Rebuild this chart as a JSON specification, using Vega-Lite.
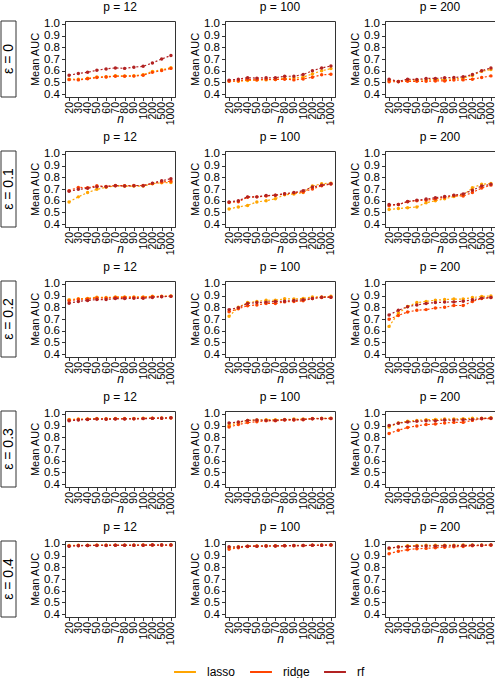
{
  "$schema": "https://vega.github.io/schema/vega-lite/v6.json",
  "background": "white",
  "padding": {"left": 0, "top": 0, "right": 0, "bottom": 0},
  "data": {
    "values": [
      {"eps": 0, "p": 12, "n": 20, "lasso": 0.528, "ridge": 0.524, "rf": 0.562},
      {"eps": 0, "p": 12, "n": 30, "lasso": 0.527, "ridge": 0.522, "rf": 0.576},
      {"eps": 0, "p": 12, "n": 40, "lasso": 0.535, "ridge": 0.531, "rf": 0.587},
      {"eps": 0, "p": 12, "n": 50, "lasso": 0.546, "ridge": 0.542, "rf": 0.604},
      {"eps": 0, "p": 12, "n": 60, "lasso": 0.549, "ridge": 0.546, "rf": 0.615},
      {"eps": 0, "p": 12, "n": 70, "lasso": 0.557, "ridge": 0.553, "rf": 0.624},
      {"eps": 0, "p": 12, "n": 80, "lasso": 0.556, "ridge": 0.553, "rf": 0.620},
      {"eps": 0, "p": 12, "n": 90, "lasso": 0.557, "ridge": 0.554, "rf": 0.630},
      {"eps": 0, "p": 12, "n": 100, "lasso": 0.566, "ridge": 0.561, "rf": 0.638},
      {"eps": 0, "p": 12, "n": 200, "lasso": 0.594, "ridge": 0.586, "rf": 0.666},
      {"eps": 0, "p": 12, "n": 500, "lasso": 0.608, "ridge": 0.601, "rf": 0.700},
      {"eps": 0, "p": 12, "n": 1000, "lasso": 0.626, "ridge": 0.620, "rf": 0.730},
      {"eps": 0, "p": 100, "n": 20, "lasso": 0.512, "ridge": 0.510, "rf": 0.520},
      {"eps": 0, "p": 100, "n": 30, "lasso": 0.510, "ridge": 0.515, "rf": 0.528},
      {"eps": 0, "p": 100, "n": 40, "lasso": 0.517, "ridge": 0.525, "rf": 0.540},
      {"eps": 0, "p": 100, "n": 50, "lasso": 0.520, "ridge": 0.522, "rf": 0.537},
      {"eps": 0, "p": 100, "n": 60, "lasso": 0.522, "ridge": 0.528, "rf": 0.540},
      {"eps": 0, "p": 100, "n": 70, "lasso": 0.525, "ridge": 0.525, "rf": 0.540},
      {"eps": 0, "p": 100, "n": 80, "lasso": 0.534, "ridge": 0.528, "rf": 0.553},
      {"eps": 0, "p": 100, "n": 90, "lasso": 0.537, "ridge": 0.522, "rf": 0.553},
      {"eps": 0, "p": 100, "n": 100, "lasso": 0.545, "ridge": 0.530, "rf": 0.567},
      {"eps": 0, "p": 100, "n": 200, "lasso": 0.573, "ridge": 0.545, "rf": 0.600},
      {"eps": 0, "p": 100, "n": 500, "lasso": 0.600, "ridge": 0.565, "rf": 0.624},
      {"eps": 0, "p": 100, "n": 1000, "lasso": 0.618, "ridge": 0.570, "rf": 0.640},
      {"eps": 0, "p": 200, "n": 20, "lasso": 0.517, "ridge": 0.506, "rf": 0.528},
      {"eps": 0, "p": 200, "n": 30, "lasso": 0.508, "ridge": 0.506, "rf": 0.508},
      {"eps": 0, "p": 200, "n": 40, "lasso": 0.520, "ridge": 0.510, "rf": 0.528},
      {"eps": 0, "p": 200, "n": 50, "lasso": 0.520, "ridge": 0.510, "rf": 0.525},
      {"eps": 0, "p": 200, "n": 60, "lasso": 0.522, "ridge": 0.510, "rf": 0.534},
      {"eps": 0, "p": 200, "n": 70, "lasso": 0.525, "ridge": 0.513, "rf": 0.534},
      {"eps": 0, "p": 200, "n": 80, "lasso": 0.525, "ridge": 0.513, "rf": 0.540},
      {"eps": 0, "p": 200, "n": 90, "lasso": 0.530, "ridge": 0.520, "rf": 0.542},
      {"eps": 0, "p": 200, "n": 100, "lasso": 0.537, "ridge": 0.522, "rf": 0.548},
      {"eps": 0, "p": 200, "n": 200, "lasso": 0.560, "ridge": 0.528, "rf": 0.567},
      {"eps": 0, "p": 200, "n": 500, "lasso": 0.595, "ridge": 0.542, "rf": 0.600},
      {"eps": 0, "p": 200, "n": 1000, "lasso": 0.610, "ridge": 0.556, "rf": 0.624},
      {"eps": 0.1, "p": 12, "n": 20, "lasso": 0.590, "ridge": 0.686, "rf": 0.680},
      {"eps": 0.1, "p": 12, "n": 30, "lasso": 0.633, "ridge": 0.714, "rf": 0.697},
      {"eps": 0.1, "p": 12, "n": 40, "lasso": 0.670, "ridge": 0.711, "rf": 0.706},
      {"eps": 0.1, "p": 12, "n": 50, "lasso": 0.697, "ridge": 0.728, "rf": 0.720},
      {"eps": 0.1, "p": 12, "n": 60, "lasso": 0.714, "ridge": 0.722, "rf": 0.720},
      {"eps": 0.1, "p": 12, "n": 70, "lasso": 0.728, "ridge": 0.730, "rf": 0.728},
      {"eps": 0.1, "p": 12, "n": 80, "lasso": 0.725, "ridge": 0.728, "rf": 0.725},
      {"eps": 0.1, "p": 12, "n": 90, "lasso": 0.725, "ridge": 0.730, "rf": 0.728},
      {"eps": 0.1, "p": 12, "n": 100, "lasso": 0.725, "ridge": 0.730, "rf": 0.728},
      {"eps": 0.1, "p": 12, "n": 200, "lasso": 0.745, "ridge": 0.747, "rf": 0.750},
      {"eps": 0.1, "p": 12, "n": 500, "lasso": 0.753, "ridge": 0.760, "rf": 0.770},
      {"eps": 0.1, "p": 12, "n": 1000, "lasso": 0.755, "ridge": 0.766, "rf": 0.788},
      {"eps": 0.1, "p": 100, "n": 20, "lasso": 0.530, "ridge": 0.585, "rf": 0.590},
      {"eps": 0.1, "p": 100, "n": 30, "lasso": 0.547, "ridge": 0.592, "rf": 0.600},
      {"eps": 0.1, "p": 100, "n": 40, "lasso": 0.560, "ridge": 0.630, "rf": 0.633},
      {"eps": 0.1, "p": 100, "n": 50, "lasso": 0.590, "ridge": 0.633, "rf": 0.633},
      {"eps": 0.1, "p": 100, "n": 60, "lasso": 0.600, "ridge": 0.640, "rf": 0.644},
      {"eps": 0.1, "p": 100, "n": 70, "lasso": 0.617, "ridge": 0.647, "rf": 0.647},
      {"eps": 0.1, "p": 100, "n": 80, "lasso": 0.650, "ridge": 0.658, "rf": 0.660},
      {"eps": 0.1, "p": 100, "n": 90, "lasso": 0.658, "ridge": 0.667, "rf": 0.670},
      {"eps": 0.1, "p": 100, "n": 100, "lasso": 0.670, "ridge": 0.675, "rf": 0.686},
      {"eps": 0.1, "p": 100, "n": 200, "lasso": 0.725, "ridge": 0.700, "rf": 0.717},
      {"eps": 0.1, "p": 100, "n": 500, "lasso": 0.745, "ridge": 0.728, "rf": 0.733},
      {"eps": 0.1, "p": 100, "n": 1000, "lasso": 0.750, "ridge": 0.742, "rf": 0.745},
      {"eps": 0.1, "p": 200, "n": 20, "lasso": 0.525, "ridge": 0.558, "rf": 0.567},
      {"eps": 0.1, "p": 200, "n": 30, "lasso": 0.533, "ridge": 0.567, "rf": 0.567},
      {"eps": 0.1, "p": 200, "n": 40, "lasso": 0.541, "ridge": 0.592, "rf": 0.594},
      {"eps": 0.1, "p": 200, "n": 50, "lasso": 0.547, "ridge": 0.600, "rf": 0.605},
      {"eps": 0.1, "p": 200, "n": 60, "lasso": 0.583, "ridge": 0.605, "rf": 0.614},
      {"eps": 0.1, "p": 200, "n": 70, "lasso": 0.600, "ridge": 0.614, "rf": 0.625},
      {"eps": 0.1, "p": 200, "n": 80, "lasso": 0.617, "ridge": 0.630, "rf": 0.636},
      {"eps": 0.1, "p": 200, "n": 90, "lasso": 0.636, "ridge": 0.644, "rf": 0.647},
      {"eps": 0.1, "p": 200, "n": 100, "lasso": 0.647, "ridge": 0.640, "rf": 0.658},
      {"eps": 0.1, "p": 200, "n": 200, "lasso": 0.710, "ridge": 0.670, "rf": 0.690},
      {"eps": 0.1, "p": 200, "n": 500, "lasso": 0.740, "ridge": 0.708, "rf": 0.725},
      {"eps": 0.1, "p": 200, "n": 1000, "lasso": 0.747, "ridge": 0.733, "rf": 0.740},
      {"eps": 0.2, "p": 12, "n": 20, "lasso": 0.865, "ridge": 0.855, "rf": 0.835},
      {"eps": 0.2, "p": 12, "n": 30, "lasso": 0.873, "ridge": 0.868, "rf": 0.850},
      {"eps": 0.2, "p": 12, "n": 40, "lasso": 0.876, "ridge": 0.870, "rf": 0.858},
      {"eps": 0.2, "p": 12, "n": 50, "lasso": 0.886, "ridge": 0.880, "rf": 0.866},
      {"eps": 0.2, "p": 12, "n": 60, "lasso": 0.883, "ridge": 0.878, "rf": 0.866},
      {"eps": 0.2, "p": 12, "n": 70, "lasso": 0.888, "ridge": 0.884, "rf": 0.874},
      {"eps": 0.2, "p": 12, "n": 80, "lasso": 0.888, "ridge": 0.884, "rf": 0.874},
      {"eps": 0.2, "p": 12, "n": 90, "lasso": 0.888, "ridge": 0.884, "rf": 0.876},
      {"eps": 0.2, "p": 12, "n": 100, "lasso": 0.888, "ridge": 0.884, "rf": 0.876},
      {"eps": 0.2, "p": 12, "n": 200, "lasso": 0.894, "ridge": 0.890, "rf": 0.884},
      {"eps": 0.2, "p": 12, "n": 500, "lasso": 0.894, "ridge": 0.892, "rf": 0.890},
      {"eps": 0.2, "p": 12, "n": 1000, "lasso": 0.897, "ridge": 0.894, "rf": 0.893},
      {"eps": 0.2, "p": 100, "n": 20, "lasso": 0.723, "ridge": 0.762, "rf": 0.780},
      {"eps": 0.2, "p": 100, "n": 30, "lasso": 0.800, "ridge": 0.788, "rf": 0.797},
      {"eps": 0.2, "p": 100, "n": 40, "lasso": 0.840, "ridge": 0.813, "rf": 0.833},
      {"eps": 0.2, "p": 100, "n": 50, "lasso": 0.850, "ridge": 0.820, "rf": 0.840},
      {"eps": 0.2, "p": 100, "n": 60, "lasso": 0.860, "ridge": 0.833, "rf": 0.844},
      {"eps": 0.2, "p": 100, "n": 70, "lasso": 0.860, "ridge": 0.833, "rf": 0.850},
      {"eps": 0.2, "p": 100, "n": 80, "lasso": 0.872, "ridge": 0.846, "rf": 0.852},
      {"eps": 0.2, "p": 100, "n": 90, "lasso": 0.870, "ridge": 0.850, "rf": 0.858},
      {"eps": 0.2, "p": 100, "n": 100, "lasso": 0.875, "ridge": 0.855, "rf": 0.864},
      {"eps": 0.2, "p": 100, "n": 200, "lasso": 0.888, "ridge": 0.875, "rf": 0.875},
      {"eps": 0.2, "p": 100, "n": 500, "lasso": 0.888, "ridge": 0.883, "rf": 0.886},
      {"eps": 0.2, "p": 100, "n": 1000, "lasso": 0.894, "ridge": 0.886, "rf": 0.886},
      {"eps": 0.2, "p": 200, "n": 20, "lasso": 0.637, "ridge": 0.698, "rf": 0.735},
      {"eps": 0.2, "p": 200, "n": 30, "lasso": 0.750, "ridge": 0.730, "rf": 0.774},
      {"eps": 0.2, "p": 200, "n": 40, "lasso": 0.807, "ridge": 0.760, "rf": 0.805},
      {"eps": 0.2, "p": 200, "n": 50, "lasso": 0.840, "ridge": 0.774, "rf": 0.820},
      {"eps": 0.2, "p": 200, "n": 60, "lasso": 0.850, "ridge": 0.780, "rf": 0.833},
      {"eps": 0.2, "p": 200, "n": 70, "lasso": 0.860, "ridge": 0.793, "rf": 0.840},
      {"eps": 0.2, "p": 200, "n": 80, "lasso": 0.866, "ridge": 0.800, "rf": 0.844},
      {"eps": 0.2, "p": 200, "n": 90, "lasso": 0.870, "ridge": 0.815, "rf": 0.846},
      {"eps": 0.2, "p": 200, "n": 100, "lasso": 0.870, "ridge": 0.815, "rf": 0.852},
      {"eps": 0.2, "p": 200, "n": 200, "lasso": 0.883, "ridge": 0.850, "rf": 0.864},
      {"eps": 0.2, "p": 200, "n": 500, "lasso": 0.892, "ridge": 0.875, "rf": 0.878},
      {"eps": 0.2, "p": 200, "n": 1000, "lasso": 0.897, "ridge": 0.883, "rf": 0.883},
      {"eps": 0.3, "p": 12, "n": 20, "lasso": 0.952, "ridge": 0.947, "rf": 0.940},
      {"eps": 0.3, "p": 12, "n": 30, "lasso": 0.955, "ridge": 0.952, "rf": 0.947},
      {"eps": 0.3, "p": 12, "n": 40, "lasso": 0.956, "ridge": 0.954, "rf": 0.952},
      {"eps": 0.3, "p": 12, "n": 50, "lasso": 0.960, "ridge": 0.957, "rf": 0.955},
      {"eps": 0.3, "p": 12, "n": 60, "lasso": 0.958, "ridge": 0.956, "rf": 0.954},
      {"eps": 0.3, "p": 12, "n": 70, "lasso": 0.960, "ridge": 0.958, "rf": 0.956},
      {"eps": 0.3, "p": 12, "n": 80, "lasso": 0.960, "ridge": 0.958, "rf": 0.956},
      {"eps": 0.3, "p": 12, "n": 90, "lasso": 0.960, "ridge": 0.958, "rf": 0.957},
      {"eps": 0.3, "p": 12, "n": 100, "lasso": 0.962, "ridge": 0.960, "rf": 0.959},
      {"eps": 0.3, "p": 12, "n": 200, "lasso": 0.963, "ridge": 0.962, "rf": 0.961},
      {"eps": 0.3, "p": 12, "n": 500, "lasso": 0.964, "ridge": 0.963, "rf": 0.963},
      {"eps": 0.3, "p": 12, "n": 1000, "lasso": 0.966, "ridge": 0.965, "rf": 0.966},
      {"eps": 0.3, "p": 100, "n": 20, "lasso": 0.900, "ridge": 0.888, "rf": 0.922},
      {"eps": 0.3, "p": 100, "n": 30, "lasso": 0.925, "ridge": 0.908, "rf": 0.930},
      {"eps": 0.3, "p": 100, "n": 40, "lasso": 0.944, "ridge": 0.925, "rf": 0.944},
      {"eps": 0.3, "p": 100, "n": 50, "lasso": 0.947, "ridge": 0.933, "rf": 0.947},
      {"eps": 0.3, "p": 100, "n": 60, "lasso": 0.950, "ridge": 0.940, "rf": 0.944},
      {"eps": 0.3, "p": 100, "n": 70, "lasso": 0.950, "ridge": 0.940, "rf": 0.944},
      {"eps": 0.3, "p": 100, "n": 80, "lasso": 0.952, "ridge": 0.947, "rf": 0.950},
      {"eps": 0.3, "p": 100, "n": 90, "lasso": 0.955, "ridge": 0.947, "rf": 0.950},
      {"eps": 0.3, "p": 100, "n": 100, "lasso": 0.955, "ridge": 0.950, "rf": 0.952},
      {"eps": 0.3, "p": 100, "n": 200, "lasso": 0.960, "ridge": 0.958, "rf": 0.958},
      {"eps": 0.3, "p": 100, "n": 500, "lasso": 0.963, "ridge": 0.958, "rf": 0.960},
      {"eps": 0.3, "p": 100, "n": 1000, "lasso": 0.963, "ridge": 0.960, "rf": 0.960},
      {"eps": 0.3, "p": 200, "n": 20, "lasso": 0.888, "ridge": 0.832, "rf": 0.900},
      {"eps": 0.3, "p": 200, "n": 30, "lasso": 0.922, "ridge": 0.860, "rf": 0.920},
      {"eps": 0.3, "p": 200, "n": 40, "lasso": 0.936, "ridge": 0.883, "rf": 0.930},
      {"eps": 0.3, "p": 200, "n": 50, "lasso": 0.944, "ridge": 0.897, "rf": 0.936},
      {"eps": 0.3, "p": 200, "n": 60, "lasso": 0.950, "ridge": 0.908, "rf": 0.940},
      {"eps": 0.3, "p": 200, "n": 70, "lasso": 0.952, "ridge": 0.913, "rf": 0.941},
      {"eps": 0.3, "p": 200, "n": 80, "lasso": 0.955, "ridge": 0.922, "rf": 0.947},
      {"eps": 0.3, "p": 200, "n": 90, "lasso": 0.955, "ridge": 0.927, "rf": 0.947},
      {"eps": 0.3, "p": 200, "n": 100, "lasso": 0.958, "ridge": 0.927, "rf": 0.950},
      {"eps": 0.3, "p": 200, "n": 200, "lasso": 0.963, "ridge": 0.944, "rf": 0.952},
      {"eps": 0.3, "p": 200, "n": 500, "lasso": 0.963, "ridge": 0.958, "rf": 0.960},
      {"eps": 0.3, "p": 200, "n": 1000, "lasso": 0.966, "ridge": 0.960, "rf": 0.963},
      {"eps": 0.4, "p": 12, "n": 20, "lasso": 0.985, "ridge": 0.982, "rf": 0.980},
      {"eps": 0.4, "p": 12, "n": 30, "lasso": 0.987, "ridge": 0.985, "rf": 0.984},
      {"eps": 0.4, "p": 12, "n": 40, "lasso": 0.987, "ridge": 0.986, "rf": 0.985},
      {"eps": 0.4, "p": 12, "n": 50, "lasso": 0.988, "ridge": 0.987, "rf": 0.986},
      {"eps": 0.4, "p": 12, "n": 60, "lasso": 0.988, "ridge": 0.987, "rf": 0.986},
      {"eps": 0.4, "p": 12, "n": 70, "lasso": 0.988, "ridge": 0.987, "rf": 0.987},
      {"eps": 0.4, "p": 12, "n": 80, "lasso": 0.988, "ridge": 0.987, "rf": 0.987},
      {"eps": 0.4, "p": 12, "n": 90, "lasso": 0.988, "ridge": 0.988, "rf": 0.987},
      {"eps": 0.4, "p": 12, "n": 100, "lasso": 0.989, "ridge": 0.988, "rf": 0.988},
      {"eps": 0.4, "p": 12, "n": 200, "lasso": 0.990, "ridge": 0.989, "rf": 0.989},
      {"eps": 0.4, "p": 12, "n": 500, "lasso": 0.990, "ridge": 0.989, "rf": 0.989},
      {"eps": 0.4, "p": 12, "n": 1000, "lasso": 0.990, "ridge": 0.990, "rf": 0.989},
      {"eps": 0.4, "p": 100, "n": 20, "lasso": 0.967, "ridge": 0.953, "rf": 0.975},
      {"eps": 0.4, "p": 100, "n": 30, "lasso": 0.975, "ridge": 0.967, "rf": 0.972},
      {"eps": 0.4, "p": 100, "n": 40, "lasso": 0.980, "ridge": 0.978, "rf": 0.980},
      {"eps": 0.4, "p": 100, "n": 50, "lasso": 0.982, "ridge": 0.980, "rf": 0.980},
      {"eps": 0.4, "p": 100, "n": 60, "lasso": 0.983, "ridge": 0.981, "rf": 0.981},
      {"eps": 0.4, "p": 100, "n": 70, "lasso": 0.984, "ridge": 0.982, "rf": 0.982},
      {"eps": 0.4, "p": 100, "n": 80, "lasso": 0.985, "ridge": 0.983, "rf": 0.984},
      {"eps": 0.4, "p": 100, "n": 90, "lasso": 0.986, "ridge": 0.984, "rf": 0.985},
      {"eps": 0.4, "p": 100, "n": 100, "lasso": 0.986, "ridge": 0.985, "rf": 0.985},
      {"eps": 0.4, "p": 100, "n": 200, "lasso": 0.988, "ridge": 0.987, "rf": 0.987},
      {"eps": 0.4, "p": 100, "n": 500, "lasso": 0.989, "ridge": 0.988, "rf": 0.988},
      {"eps": 0.4, "p": 100, "n": 1000, "lasso": 0.990, "ridge": 0.989, "rf": 0.989},
      {"eps": 0.4, "p": 200, "n": 20, "lasso": 0.958, "ridge": 0.916, "rf": 0.964},
      {"eps": 0.4, "p": 200, "n": 30, "lasso": 0.975, "ridge": 0.936, "rf": 0.972},
      {"eps": 0.4, "p": 200, "n": 40, "lasso": 0.983, "ridge": 0.950, "rf": 0.978},
      {"eps": 0.4, "p": 200, "n": 50, "lasso": 0.986, "ridge": 0.958, "rf": 0.980},
      {"eps": 0.4, "p": 200, "n": 60, "lasso": 0.987, "ridge": 0.961, "rf": 0.981},
      {"eps": 0.4, "p": 200, "n": 70, "lasso": 0.987, "ridge": 0.967, "rf": 0.982},
      {"eps": 0.4, "p": 200, "n": 80, "lasso": 0.988, "ridge": 0.970, "rf": 0.983},
      {"eps": 0.4, "p": 200, "n": 90, "lasso": 0.988, "ridge": 0.975, "rf": 0.984},
      {"eps": 0.4, "p": 200, "n": 100, "lasso": 0.989, "ridge": 0.978, "rf": 0.985},
      {"eps": 0.4, "p": 200, "n": 200, "lasso": 0.990, "ridge": 0.983, "rf": 0.987},
      {"eps": 0.4, "p": 200, "n": 500, "lasso": 0.990, "ridge": 0.986, "rf": 0.988},
      {"eps": 0.4, "p": 200, "n": 1000, "lasso": 0.990, "ridge": 0.989, "rf": 0.989}
    ]
  },
  "columns": 4,
  "spacing": {"row": 4, "column": 12},
  "concat": [
    {"width": 15, "height": 76, "data": {"values": [{"label": "ε = 0"}]}, "layer": [{"mark": {"type": "rect", "fill": "white", "stroke": "#333333", "strokeWidth": 1}, "encoding": {}}, {"mark": {"type": "text", "angle": 270, "fontSize": 14, "font": "Liberation Sans", "color": "black"}, "encoding": {"text": {"field": "label"}}}]},
    {"title": "p = 12", "transform": [{"filter": "datum.eps == 0 && datum.p == 12"}, {"fold": ["lasso", "ridge", "rf"], "as": ["method", "auc"]}], "mark": {"type": "line", "strokeDash": [2, 2], "strokeWidth": 1.2, "point": {"filled": true, "size": 12}}, "encoding": {"x": {"field": "n", "type": "ordinal", "title": "n"}, "y": {"field": "auc", "type": "quantitative", "title": "Mean AUC", "scale": {"domain": [0.376, 1.024], "nice": false, "zero": false}}, "color": {"field": "method", "type": "nominal", "scale": {"domain": ["lasso", "ridge", "rf"], "range": ["#FFA500", "#FF4500", "#B22222"]}, "legend": {"title": null}}}},
    {"title": "p = 100", "transform": [{"filter": "datum.eps == 0 && datum.p == 100"}, {"fold": ["lasso", "ridge", "rf"], "as": ["method", "auc"]}], "mark": {"type": "line", "strokeDash": [2, 2], "strokeWidth": 1.2, "point": {"filled": true, "size": 12}}, "encoding": {"x": {"field": "n", "type": "ordinal", "title": "n"}, "y": {"field": "auc", "type": "quantitative", "title": "Mean AUC", "scale": {"domain": [0.376, 1.024], "nice": false, "zero": false}}, "color": {"field": "method", "type": "nominal", "scale": {"domain": ["lasso", "ridge", "rf"], "range": ["#FFA500", "#FF4500", "#B22222"]}, "legend": {"title": null}}}},
    {"title": "p = 200", "transform": [{"filter": "datum.eps == 0 && datum.p == 200"}, {"fold": ["lasso", "ridge", "rf"], "as": ["method", "auc"]}], "mark": {"type": "line", "strokeDash": [2, 2], "strokeWidth": 1.2, "point": {"filled": true, "size": 12}}, "encoding": {"x": {"field": "n", "type": "ordinal", "title": "n"}, "y": {"field": "auc", "type": "quantitative", "title": "Mean AUC", "scale": {"domain": [0.376, 1.024], "nice": false, "zero": false}}, "color": {"field": "method", "type": "nominal", "scale": {"domain": ["lasso", "ridge", "rf"], "range": ["#FFA500", "#FF4500", "#B22222"]}, "legend": {"title": null}}}},
    {"width": 15, "height": 76, "data": {"values": [{"label": "ε = 0.1"}]}, "layer": [{"mark": {"type": "rect", "fill": "white", "stroke": "#333333", "strokeWidth": 1}, "encoding": {}}, {"mark": {"type": "text", "angle": 270, "fontSize": 14, "font": "Liberation Sans", "color": "black"}, "encoding": {"text": {"field": "label"}}}]},
    {"title": "p = 12", "transform": [{"filter": "datum.eps == 0.1 && datum.p == 12"}, {"fold": ["lasso", "ridge", "rf"], "as": ["method", "auc"]}], "mark": {"type": "line", "strokeDash": [2, 2], "strokeWidth": 1.2, "point": {"filled": true, "size": 12}}, "encoding": {"x": {"field": "n", "type": "ordinal", "title": "n"}, "y": {"field": "auc", "type": "quantitative", "title": "Mean AUC", "scale": {"domain": [0.376, 1.024], "nice": false, "zero": false}}, "color": {"field": "method", "type": "nominal", "scale": {"domain": ["lasso", "ridge", "rf"], "range": ["#FFA500", "#FF4500", "#B22222"]}, "legend": {"title": null}}}},
    {"title": "p = 100", "transform": [{"filter": "datum.eps == 0.1 && datum.p == 100"}, {"fold": ["lasso", "ridge", "rf"], "as": ["method", "auc"]}], "mark": {"type": "line", "strokeDash": [2, 2], "strokeWidth": 1.2, "point": {"filled": true, "size": 12}}, "encoding": {"x": {"field": "n", "type": "ordinal", "title": "n"}, "y": {"field": "auc", "type": "quantitative", "title": "Mean AUC", "scale": {"domain": [0.376, 1.024], "nice": false, "zero": false}}, "color": {"field": "method", "type": "nominal", "scale": {"domain": ["lasso", "ridge", "rf"], "range": ["#FFA500", "#FF4500", "#B22222"]}, "legend": {"title": null}}}},
    {"title": "p = 200", "transform": [{"filter": "datum.eps == 0.1 && datum.p == 200"}, {"fold": ["lasso", "ridge", "rf"], "as": ["method", "auc"]}], "mark": {"type": "line", "strokeDash": [2, 2], "strokeWidth": 1.2, "point": {"filled": true, "size": 12}}, "encoding": {"x": {"field": "n", "type": "ordinal", "title": "n"}, "y": {"field": "auc", "type": "quantitative", "title": "Mean AUC", "scale": {"domain": [0.376, 1.024], "nice": false, "zero": false}}, "color": {"field": "method", "type": "nominal", "scale": {"domain": ["lasso", "ridge", "rf"], "range": ["#FFA500", "#FF4500", "#B22222"]}, "legend": {"title": null}}}},
    {"width": 15, "height": 76, "data": {"values": [{"label": "ε = 0.2"}]}, "layer": [{"mark": {"type": "rect", "fill": "white", "stroke": "#333333", "strokeWidth": 1}, "encoding": {}}, {"mark": {"type": "text", "angle": 270, "fontSize": 14, "font": "Liberation Sans", "color": "black"}, "encoding": {"text": {"field": "label"}}}]},
    {"title": "p = 12", "transform": [{"filter": "datum.eps == 0.2 && datum.p == 12"}, {"fold": ["lasso", "ridge", "rf"], "as": ["method", "auc"]}], "mark": {"type": "line", "strokeDash": [2, 2], "strokeWidth": 1.2, "point": {"filled": true, "size": 12}}, "encoding": {"x": {"field": "n", "type": "ordinal", "title": "n"}, "y": {"field": "auc", "type": "quantitative", "title": "Mean AUC", "scale": {"domain": [0.376, 1.024], "nice": false, "zero": false}}, "color": {"field": "method", "type": "nominal", "scale": {"domain": ["lasso", "ridge", "rf"], "range": ["#FFA500", "#FF4500", "#B22222"]}, "legend": {"title": null}}}},
    {"title": "p = 100", "transform": [{"filter": "datum.eps == 0.2 && datum.p == 100"}, {"fold": ["lasso", "ridge", "rf"], "as": ["method", "auc"]}], "mark": {"type": "line", "strokeDash": [2, 2], "strokeWidth": 1.2, "point": {"filled": true, "size": 12}}, "encoding": {"x": {"field": "n", "type": "ordinal", "title": "n"}, "y": {"field": "auc", "type": "quantitative", "title": "Mean AUC", "scale": {"domain": [0.376, 1.024], "nice": false, "zero": false}}, "color": {"field": "method", "type": "nominal", "scale": {"domain": ["lasso", "ridge", "rf"], "range": ["#FFA500", "#FF4500", "#B22222"]}, "legend": {"title": null}}}},
    {"title": "p = 200", "transform": [{"filter": "datum.eps == 0.2 && datum.p == 200"}, {"fold": ["lasso", "ridge", "rf"], "as": ["method", "auc"]}], "mark": {"type": "line", "strokeDash": [2, 2], "strokeWidth": 1.2, "point": {"filled": true, "size": 12}}, "encoding": {"x": {"field": "n", "type": "ordinal", "title": "n"}, "y": {"field": "auc", "type": "quantitative", "title": "Mean AUC", "scale": {"domain": [0.376, 1.024], "nice": false, "zero": false}}, "color": {"field": "method", "type": "nominal", "scale": {"domain": ["lasso", "ridge", "rf"], "range": ["#FFA500", "#FF4500", "#B22222"]}, "legend": {"title": null}}}},
    {"width": 15, "height": 76, "data": {"values": [{"label": "ε = 0.3"}]}, "layer": [{"mark": {"type": "rect", "fill": "white", "stroke": "#333333", "strokeWidth": 1}, "encoding": {}}, {"mark": {"type": "text", "angle": 270, "fontSize": 14, "font": "Liberation Sans", "color": "black"}, "encoding": {"text": {"field": "label"}}}]},
    {"title": "p = 12", "transform": [{"filter": "datum.eps == 0.3 && datum.p == 12"}, {"fold": ["lasso", "ridge", "rf"], "as": ["method", "auc"]}], "mark": {"type": "line", "strokeDash": [2, 2], "strokeWidth": 1.2, "point": {"filled": true, "size": 12}}, "encoding": {"x": {"field": "n", "type": "ordinal", "title": "n"}, "y": {"field": "auc", "type": "quantitative", "title": "Mean AUC", "scale": {"domain": [0.376, 1.024], "nice": false, "zero": false}}, "color": {"field": "method", "type": "nominal", "scale": {"domain": ["lasso", "ridge", "rf"], "range": ["#FFA500", "#FF4500", "#B22222"]}, "legend": {"title": null}}}},
    {"title": "p = 100", "transform": [{"filter": "datum.eps == 0.3 && datum.p == 100"}, {"fold": ["lasso", "ridge", "rf"], "as": ["method", "auc"]}], "mark": {"type": "line", "strokeDash": [2, 2], "strokeWidth": 1.2, "point": {"filled": true, "size": 12}}, "encoding": {"x": {"field": "n", "type": "ordinal", "title": "n"}, "y": {"field": "auc", "type": "quantitative", "title": "Mean AUC", "scale": {"domain": [0.376, 1.024], "nice": false, "zero": false}}, "color": {"field": "method", "type": "nominal", "scale": {"domain": ["lasso", "ridge", "rf"], "range": ["#FFA500", "#FF4500", "#B22222"]}, "legend": {"title": null}}}},
    {"title": "p = 200", "transform": [{"filter": "datum.eps == 0.3 && datum.p == 200"}, {"fold": ["lasso", "ridge", "rf"], "as": ["method", "auc"]}], "mark": {"type": "line", "strokeDash": [2, 2], "strokeWidth": 1.2, "point": {"filled": true, "size": 12}}, "encoding": {"x": {"field": "n", "type": "ordinal", "title": "n"}, "y": {"field": "auc", "type": "quantitative", "title": "Mean AUC", "scale": {"domain": [0.376, 1.024], "nice": false, "zero": false}}, "color": {"field": "method", "type": "nominal", "scale": {"domain": ["lasso", "ridge", "rf"], "range": ["#FFA500", "#FF4500", "#B22222"]}, "legend": {"title": null}}}},
    {"width": 15, "height": 76, "data": {"values": [{"label": "ε = 0.4"}]}, "layer": [{"mark": {"type": "rect", "fill": "white", "stroke": "#333333", "strokeWidth": 1}, "encoding": {}}, {"mark": {"type": "text", "angle": 270, "fontSize": 14, "font": "Liberation Sans", "color": "black"}, "encoding": {"text": {"field": "label"}}}]},
    {"title": "p = 12", "transform": [{"filter": "datum.eps == 0.4 && datum.p == 12"}, {"fold": ["lasso", "ridge", "rf"], "as": ["method", "auc"]}], "mark": {"type": "line", "strokeDash": [2, 2], "strokeWidth": 1.2, "point": {"filled": true, "size": 12}}, "encoding": {"x": {"field": "n", "type": "ordinal", "title": "n"}, "y": {"field": "auc", "type": "quantitative", "title": "Mean AUC", "scale": {"domain": [0.376, 1.024], "nice": false, "zero": false}}, "color": {"field": "method", "type": "nominal", "scale": {"domain": ["lasso", "ridge", "rf"], "range": ["#FFA500", "#FF4500", "#B22222"]}, "legend": {"title": null}}}},
    {"title": "p = 100", "transform": [{"filter": "datum.eps == 0.4 && datum.p == 100"}, {"fold": ["lasso", "ridge", "rf"], "as": ["method", "auc"]}], "mark": {"type": "line", "strokeDash": [2, 2], "strokeWidth": 1.2, "point": {"filled": true, "size": 12}}, "encoding": {"x": {"field": "n", "type": "ordinal", "title": "n"}, "y": {"field": "auc", "type": "quantitative", "title": "Mean AUC", "scale": {"domain": [0.376, 1.024], "nice": false, "zero": false}}, "color": {"field": "method", "type": "nominal", "scale": {"domain": ["lasso", "ridge", "rf"], "range": ["#FFA500", "#FF4500", "#B22222"]}, "legend": {"title": null}}}},
    {"title": "p = 200", "transform": [{"filter": "datum.eps == 0.4 && datum.p == 200"}, {"fold": ["lasso", "ridge", "rf"], "as": ["method", "auc"]}], "mark": {"type": "line", "strokeDash": [2, 2], "strokeWidth": 1.2, "point": {"filled": true, "size": 12}}, "encoding": {"x": {"field": "n", "type": "ordinal", "title": "n"}, "y": {"field": "auc", "type": "quantitative", "title": "Mean AUC", "scale": {"domain": [0.376, 1.024], "nice": false, "zero": false}}, "color": {"field": "method", "type": "nominal", "scale": {"domain": ["lasso", "ridge", "rf"], "range": ["#FFA500", "#FF4500", "#B22222"]}, "legend": {"title": null}}}}
  ],
  "config": {
    "font": "Liberation Sans",
    "view": {"stroke": "#333333", "strokeWidth": 1, "discreteWidth": 110, "continuousHeight": 76, "discreteHeight": 76},
    "scale": {"pointPadding": 0.44},
    "title": {"fontSize": 12, "fontWeight": "normal", "color": "#000000", "offset": 0},
    "axis": {"grid": false, "domainColor": "#333333", "tickColor": "#333333", "labelColor": "#000000", "titleColor": "#000000", "titleFontWeight": "normal", "labelOverlap": false},
    "axisY": {"offset": 0, "tickSize": 3.5, "tickCount": 7, "labelFontSize": 11.5, "labelPadding": 2, "titleFontSize": 11, "titlePadding": 3},
    "axisX": {"offset": 0, "tickSize": 3.5, "labelAngle": 270, "labelFontSize": 10.5, "labelPadding": 1, "titleFontSize": 12, "titleFontStyle": "italic", "titleY": 16, "titleBaseline": "top"},
    "legend": {"orient": "none", "legendX": 172, "legendY": 639, "direction": "horizontal", "labelFontSize": 12, "labelColor": "#000000", "symbolType": "stroke", "symbolSize": 480, "symbolStrokeWidth": 2, "symbolDash": [1, 0], "columnPadding": 10, "labelOffset": 10}
  }
}
